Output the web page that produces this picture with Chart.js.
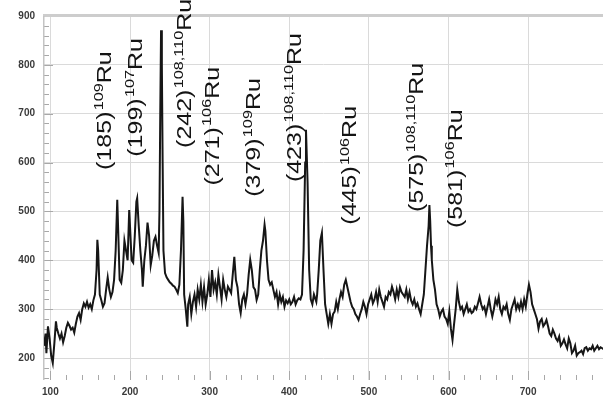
<!DOCTYPE html>
<html>
<head>
<meta charset="utf-8">
<script src="https://cdn.jsdelivr.net/npm/chart.js@4.4.1/dist/chart.umd.min.js"></script>
<style>
    body { margin: 0; background: #fff; }
    #wrap { width: 603px; height: 402px; position: relative; }
</style>
</head>
<body>
<div id="wrap"><canvas id="spektri"></canvas></div>
<script>
// energy (keV) and counts
const energia = [
    92, 94, 95, 97, 99, 101, 103, 105, 107, 108, 110, 112, 114, 116, 118, 120, 122, 124, 126, 128,
    130, 132, 134, 136, 138, 140, 142, 144, 146, 148, 150, 152, 154, 156, 158, 159, 160, 162, 164, 166,
    168, 170, 172, 174, 176, 178, 180, 182, 184, 185, 187, 189, 191, 193, 195, 197, 199, 200, 202, 204,
    206, 208, 209, 211, 213, 215, 216, 218, 220, 222, 224, 226, 228, 230, 232, 234, 236, 237, 238, 239,
    240, 241, 242, 244, 246, 248, 250, 252, 254, 256, 258, 260, 262, 264, 266, 267, 268, 270, 272, 273,
    275, 277, 279, 281, 283, 285, 287, 289, 291, 293, 295, 297, 299, 301, 303, 305, 307, 309, 311, 313,
    315, 317, 319, 321, 323, 325, 327, 329, 331, 333, 335, 337, 339, 341, 343, 345, 347, 349, 351, 353,
    355, 357, 359, 361, 363, 365, 367, 369, 370, 372, 374, 376, 378, 380, 382, 384, 386, 388, 390, 392,
    394, 396, 398, 400, 402, 404, 406, 408, 410, 412, 414, 416, 418, 420, 421, 423, 425, 427, 429, 431,
    433, 434, 435, 437, 439, 441, 443, 445, 447, 449, 451, 453, 455, 457, 459, 461, 463, 465, 467, 469,
    471, 473, 475, 477, 479, 481, 483, 485, 487, 489, 491, 493, 495, 497, 499, 501, 503, 505, 507, 509,
    511, 513, 515, 517, 519, 521, 523, 525, 527, 529, 531, 533, 535, 537, 539, 541, 543, 545, 547, 549,
    551, 553, 555, 557, 559, 561, 563, 565, 567, 569, 571, 573, 575, 576, 577, 578, 579, 581, 583, 585,
    587, 589, 591, 593, 595, 597, 599, 601, 603, 605, 607, 609, 611, 613, 615, 617, 619, 621, 623, 625,
    627, 629, 631, 633, 635, 637, 639, 641, 643, 645, 647, 649, 651, 653, 655, 657, 659, 661, 663, 665,
    667, 669, 671, 673, 675, 677, 679, 681, 683, 685, 687, 689, 691, 693, 695, 697, 699, 701, 703, 705,
    707, 709, 711, 713, 715, 717, 719, 721, 723, 725, 727, 729, 731, 733, 735, 737, 739, 741, 743, 745,
    747, 749, 751, 753, 755, 757, 759, 761, 763, 765, 767, 769, 771, 773, 775, 777, 779, 781, 783, 785,
    787, 789, 791, 793, 795
];
const pulssit = [
    225, 250, 210, 265, 240, 205, 190, 230, 275, 262, 250, 240, 250, 232, 245, 262, 272, 266, 258, 262,
    252, 270, 285, 292, 278, 300, 312, 305, 315, 303, 310, 300, 318, 330, 380, 442, 420, 330, 318, 305,
    312, 340, 365, 340, 325, 335, 360, 420, 524, 470, 360, 354, 380, 440, 420, 400, 503, 470, 400, 395,
    450, 520, 527, 470, 420, 380, 346, 400, 430, 477, 450, 390, 410, 440, 448, 430, 415, 500, 700, 871,
    800, 600, 420, 374, 365, 360, 355, 352, 348, 346, 340, 333, 350, 420, 530, 480, 330, 300, 264, 310,
    325, 290, 315, 330, 305, 340, 320, 350, 315, 345, 310, 330, 360, 325, 380, 340, 355, 330, 370, 345,
    320, 360, 340, 325, 346, 340, 333, 370, 407, 360, 345, 310, 292, 320, 330, 310, 330, 370, 401, 380,
    345, 340, 319, 330, 380, 420, 440, 473, 460, 400, 360, 350, 355, 340, 325, 335, 310, 330, 315, 325,
    305, 318, 312, 320, 310, 315, 325, 310, 318, 322, 320, 330, 420, 600, 667, 560, 380, 320, 310, 330,
    320, 315, 330, 380, 440, 456, 380, 310, 290, 270, 290, 270, 290, 295, 315, 300, 320, 335, 325, 350,
    360, 345, 330, 315, 305, 300, 290, 285, 278, 290, 300, 315, 305, 290, 310, 320, 330, 312, 320, 335,
    315, 340, 325, 315, 305, 325, 320, 335, 330, 346, 335, 320, 340, 325, 345, 335, 330, 325, 340, 320,
    335, 318, 310, 320, 305, 312, 300, 290, 310, 330, 380, 430, 470, 513, 480, 430, 401, 360, 340, 310,
    300, 285, 295, 300, 285, 280, 270, 295, 260, 237, 270, 300, 340, 315, 300, 305, 290, 300, 310, 295,
    300, 292, 295, 305, 300, 312, 325, 310, 300, 305, 290, 305, 320, 300, 285, 300, 320, 310, 325, 300,
    290, 305, 300, 310, 290, 278, 300, 310, 320, 300, 310, 300, 315, 300, 320, 305, 330, 350, 335, 310,
    300, 290, 280, 260, 275, 280, 265, 270, 278, 265, 250, 245, 258, 250, 240, 235, 244, 225, 230, 238,
    228, 220, 240, 230, 210, 215, 225, 205, 210, 212, 215, 208, 220, 222, 215, 220, 218, 225, 215, 220,
    225, 218, 222, 220, 218
];

const xTicks = [100, 200, 300, 400, 500, 600, 700];
const yTicks = [200, 300, 400, 500, 600, 700, 800, 900];

// peak annotations: text, superscript, and anchor (energy, counts) of the label's lower end
const piikkiTeksti = ['(185)', '(199)', '(242)', '(271)', '(379)', '(423)', '(445)', '(575)', '(581)'];
const piikkiYla = ['109', '107', '108,110', '106', '109', '108,110', '106', '108,110', '106'];
const piikkiEnergia = [167, 206, 267, 302, 354, 405, 475, 558, 607];
const piikkiKorkeus = [585, 612, 630, 553, 530, 560, 473, 499, 466];

const GRID = '#dadada';
const TICK = '#a8a8a8';

const peakLabels = {
    id: 'peakLabels',
    afterDatasetsDraw( chart )
    {
        const ctx = chart.ctx;
        const xs = chart.scales.x;
        const ys = chart.scales.y;
        ctx.save();
        ctx.fillStyle = '#141414';
        ctx.textBaseline = 'middle';
        ctx.textAlign = 'left';
        for ( let i = 0; i < piikkiTeksti.length; i++ )
        {
            let px = xs.getPixelForValue( piikkiEnergia[ i ] );
            let py = ys.getPixelForValue( piikkiKorkeus[ i ] );
            ctx.save();
            ctx.translate( px + 2, py );
            ctx.rotate( -Math.PI / 2 );
            ctx.scale( 1.25, 1 );
            ctx.font = '20px "Liberation Sans"';
            ctx.fillText( piikkiTeksti[ i ], 0, 0 );
            let w = ctx.measureText( piikkiTeksti[ i ] ).width;
            ctx.font = '13px "Liberation Sans"';
            ctx.fillText( piikkiYla[ i ], w + 1, -6 );
            let w2 = ctx.measureText( piikkiYla[ i ] ).width;
            ctx.font = '20px "Liberation Sans"';
            ctx.fillText( 'Ru', w + w2 + 1, 0 );
            ctx.restore();
        }
        ctx.restore();
    }
};

const frame = {
    id: 'frame',
    beforeDatasetsDraw( chart )
    {
        const ctx = chart.ctx;
        const a = chart.chartArea;
        const xs = chart.scales.x;
        const ys = chart.scales.y;
        ctx.save();
        ctx.strokeStyle = TICK;
        ctx.lineWidth = 1;
        // minor ticks every 20 along the bottom and left edges
        for ( let v = 100; v <= 790; v += 20 )
        {
            let px = Math.round( xs.getPixelForValue( v ) ) + 0.5;
            let len = v % 100 === 0 ? 9 : 5;
            ctx.beginPath();
            ctx.moveTo( px, a.bottom );
            ctx.lineTo( px, a.bottom - len );
            ctx.stroke();
        }
        for ( let v = 160; v <= 900; v += 20 )
        {
            let py = Math.round( ys.getPixelForValue( v ) ) + 0.5;
            let len = v % 100 === 0 ? 9 : 5;
            ctx.beginPath();
            ctx.moveTo( a.left, py );
            ctx.lineTo( a.left + len, py );
            ctx.stroke();
        }
        ctx.fillStyle = '#cdcdcd';
        ctx.fillRect( a.left - 1, a.top - 2, a.right - a.left + 1, 3 );
        ctx.fillStyle = '#c4c4c4';
        ctx.fillRect( a.left - 1, a.top, 1.5, a.bottom - a.top );
        ctx.restore();
    }
};

const config = {
    type: 'line',
    data: {
        datasets: [
            {
                data: energia.map( ( e, i ) => ( { x: e, y: pulssit[ i ] } ) ),
                borderColor: '#161616',
                borderWidth: 2,
                pointRadius: 0,
                tension: 0,
                fill: false
            }
        ]
    },
    options: {
        responsive: true,
        maintainAspectRatio: false,
        animation: false,
        layout: { padding: { top: 16, right: 0, left: 0, bottom: 0 } },
        plugins: {
            legend: { display: false },
            tooltip: { enabled: false }
        },
        scales: {
            x: {
                type: 'linear',
                min: 92,
                max: 794,
                afterBuildTicks: function ( scale )
                {
                    scale.ticks = xTicks.map( v => ( { value: v } ) );
                },
                afterFit: function ( scale )
                {
                    scale.height = 22;
                },
                border: { display: false },
                grid: { color: GRID, lineWidth: 1, drawTicks: false },
                ticks: {
                    color: '#3a3a3a',
                    font: { family: 'Liberation Sans', size: 10, weight: 'bold' },
                    padding: 6,
                    maxRotation: 0,
                    autoSkip: false
                }
            },
            y: {
                type: 'linear',
                min: 155,
                max: 900,
                afterBuildTicks: function ( scale )
                {
                    scale.ticks = yTicks.map( v => ( { value: v } ) );
                },
                afterFit: function ( scale )
                {
                    scale.width = 44;
                },
                border: { display: false },
                grid: { color: GRID, lineWidth: 1, drawTicks: false },
                ticks: {
                    color: '#3a3a3a',
                    font: { family: 'Liberation Sans', size: 10, weight: 'bold' },
                    padding: 9,
                    autoSkip: false
                }
            }
        }
    },
    plugins: [ frame, peakLabels ]
};

new Chart( document.getElementById( 'spektri' ).getContext( '2d' ), config );
</script>
</body>
</html>
